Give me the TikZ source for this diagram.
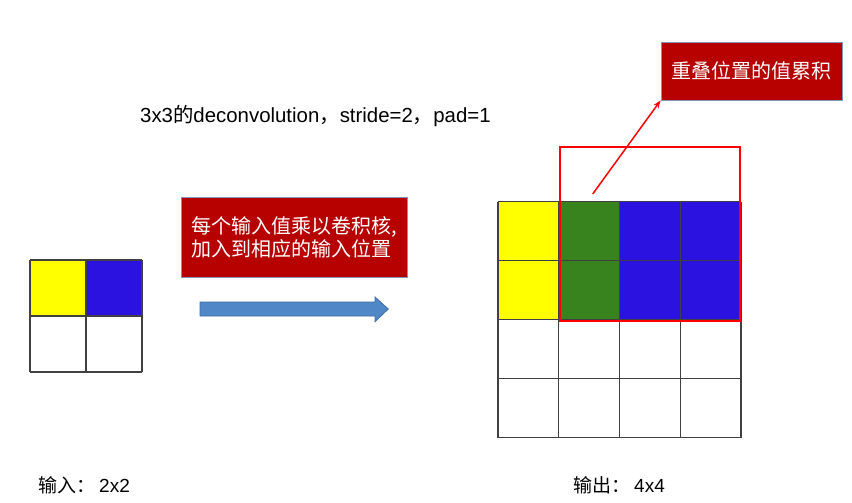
\documentclass[tikz,border=0pt]{standalone}
\usepackage{fontspec}
\setmainfont{Liberation Sans}
\newfontfamily\cjk{Noto Sans CJK SC}
\usetikzlibrary{arrows.meta}

\definecolor{cellyellow}{RGB}{255,255,0}
\definecolor{cellblue}{RGB}{43,18,224}
\definecolor{cellgreen}{RGB}{56,131,30}
\definecolor{boxred}{RGB}{183,0,0}
\definecolor{boxedge}{RGB}{125,150,185}
\definecolor{arrowblue}{RGB}{79,135,199}
\definecolor{arrowedge}{RGB}{65,110,165}

\tikzset{
  notebox/.style={draw=boxedge, fill=boxred, line width=0.8pt, text=white,
    font=\cjk\fontsize{20}{23}\selectfont, inner sep=0pt},
  gridline/.style={draw=black!75, line width=1.3pt},
  sumframe/.style={draw=red, line width=2pt},
  sumarrow/.style={draw=red, line width=1.5pt, -{Stealth[length=8pt,width=6pt]}},
  plaintext/.style={anchor=west, inner sep=0pt, font=\fontsize{20.4}{24}\selectfont},
}

\begin{document}
\begin{tikzpicture}[x=1pt, y=-1pt]
    \useasboundingbox (0,0) rectangle (852,503);

    \node[plaintext] (title) at (140,116)
        {3x3{\cjk 的}deconvolution{\cjk ，}stride=2{\cjk ，}pad=1};

    % input 2x2
    \begin{scope}[shift={(30,260)}, x=56pt, y=-56pt]
        \fill[cellyellow] (0,0) rectangle (1,1);
        \fill[cellblue] (1,0) rectangle (2,1);
        \foreach \i in {0,1,2} {
            \draw[gridline] (\i,0) -- (\i,2);
            \draw[gridline] (0,\i) -- (2,\i);
        }
    \end{scope}

    % output 4x4
    \begin{scope}[shift={(498,201.7)}, x=60.75pt, y=-59pt]
        \fill[cellyellow] (0,0) rectangle (1,2);
        \fill[cellgreen] (1,0) rectangle (2,2);
        \fill[cellblue] (2,0) rectangle (4,2);
        \foreach \i in {0,...,4} {
            \draw[gridline] (\i,0) -- (\i,4);
            \draw[gridline] (0,\i) -- (4,\i);
        }
    \end{scope}
    \draw[sumframe] (560,146.7) rectangle (740,321);

    \node[notebox, minimum width=226pt, minimum height=80pt, align=left] (rule) at (294,237)
        {每个输入值乘以卷积核,\\加入到相应的输入位置};
    \draw[fill=arrowblue, draw=arrowedge, line width=0.8pt]
        (200,302) -- (375,302) -- (375,297) -- (388.3,309) -- (375,321.7) -- (375,316) -- (200,316) -- cycle;

    \node[notebox, minimum width=181pt, minimum height=58pt] (sumlbl) at (751.5,71)
        {重叠位置的值累积};
    \coordinate (ovl) at (592.7,194);
    \draw[sumarrow] (ovl) -- (sumlbl.south west);

    \node[plaintext, font=\fontsize{19}{22}\selectfont] (inlbl) at (38,485) {{\cjk 输入：}\hspace{4pt}2x2};
    \node[plaintext, font=\fontsize{19}{22}\selectfont] (outlbl) at (573,485) {{\cjk 输出：}\hspace{4pt}4x4};
\end{tikzpicture}
\end{document}
